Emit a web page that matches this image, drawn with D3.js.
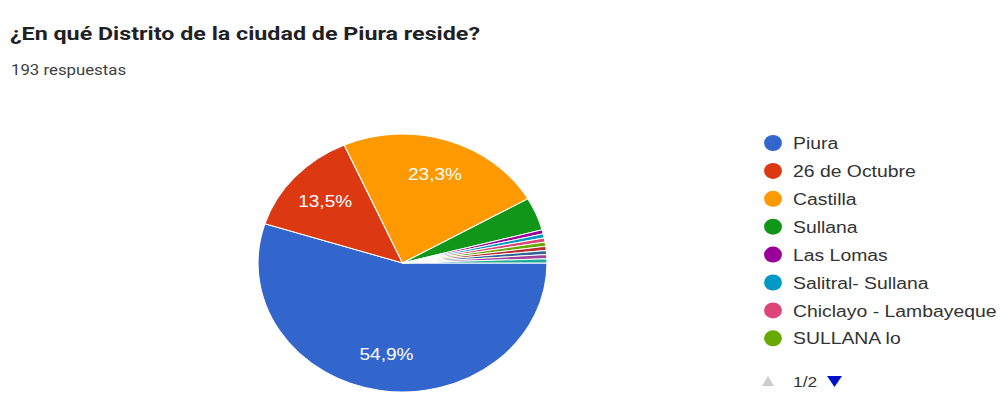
<!DOCTYPE html>
<html>
<head>
<meta charset="utf-8">
<script src="https://cdn.jsdelivr.net/npm/d3@7/dist/d3.min.js"></script>
<style>
  html, body { margin: 0; padding: 0; background: #fff; }
  svg { display: block; }
</style>
</head>
<body>
<svg id="chart" width="1006" height="398"></svg>
<script>
// Survey answers: district of residence
const title = "¿En qué Distrito de la ciudad de Piura reside?";
const subtitle = "193 respuestas";
const categories = ["Piura", "26 de Octubre", "Castilla", "Sullana", "Las Lomas",
  "Salitral- Sullana", "Chiclayo - Lambayeque", "SULLANA lo",
  "Catacaos", "Tambogrande", "Paita", "Talara"];
const counts = [106, 26, 45, 8, 1, 1, 1, 1, 1, 1, 1, 1];
const colors = ["#3366cc", "#dc3912", "#ff9900", "#109618", "#990099", "#0099c6",
  "#dd4477", "#66aa00", "#b82e2e", "#316395", "#994499", "#22aa99"];
const legendPageSize = 8;
const pageLabel = "1/2";

const W = 1006, H = 398;
const SX = 1.12;               // horizontal stretch of the whole drawing
const svg = d3.select("#chart");
svg.append("rect").attr("width", W).attr("height", H).attr("fill", "#fff");
const root = svg.append("g").attr("transform", `scale(${SX},1)`);
const X = v => v / SX;         // screen x -> drawing x

// Header
root.append("text")
  .attr("x", X(10)).attr("y", 40)
  .attr("font-family", "Roboto, Arial, sans-serif")
  .attr("font-weight", 700)
  .attr("font-size", 17.5)
  .attr("fill", "#202124")
  .attr("textLength", X(470))
  .attr("lengthAdjust", "spacingAndGlyphs")
  .text(title);
root.append("text")
  .attr("x", X(11)).attr("y", 75)
  .attr("font-family", "Roboto, Arial, sans-serif")
  .attr("font-size", 15)
  .attr("fill", "#3c4043")
  .text(subtitle);

// Pie
const total = d3.sum(counts);
const data = categories.map((c, i) => ({ name: c, value: counts[i], color: colors[i] }));
const R = 129;
const pie = d3.pie().value(d => d.value).sort(null)
  .startAngle(Math.PI / 2).endAngle(Math.PI / 2 + 2 * Math.PI);
const arc = d3.arc().innerRadius(0).outerRadius(R);
const labelArc = d3.arc().innerRadius(R * 0.72).outerRadius(R * 0.72);
const arcs = pie(data);

const pg = root.append("g").attr("transform", `translate(${X(402.5)},263)`);
pg.selectAll("path").data(arcs).join("path")
  .attr("d", arc)
  .attr("fill", d => d.data.color)
  .attr("stroke", "#fff")
  .attr("stroke-width", 1);

const fmt = v => (v * 100).toFixed(1).replace(".", ",") + "%";
pg.selectAll("text.lbl").data(arcs.filter(d => d.data.value / total > 0.05)).join("text")
  .attr("class", "lbl")
  .attr("transform", d => `translate(${labelArc.centroid(d)})`)
  .attr("text-anchor", "middle")
  .attr("dominant-baseline", "central")
  .attr("font-family", "Arial, 'Liberation Sans', sans-serif")
  .attr("font-size", 17)
  .attr("fill", "#fff")
  .text(d => fmt(d.data.value / total));

// Legend (first page)
const lg = root.append("g");
const items = data.slice(0, legendPageSize);
const rowY = i => 143 + i * 27.9;
lg.selectAll("circle").data(items).join("circle")
  .attr("cx", X(773)).attr("cy", (d, i) => rowY(i))
  .attr("r", 8)
  .attr("fill", d => d.color);
lg.selectAll("text").data(items).join("text")
  .attr("x", X(793)).attr("y", (d, i) => rowY(i))
  .attr("dominant-baseline", "central")
  .attr("font-family", "Arial, 'Liberation Sans', sans-serif")
  .attr("font-size", 17.3)
  .attr("fill", "#333")
  .text(d => d.name);

// Legend paging
const navY = 381;
lg.append("path")
  .attr("d", `M${X(762)},${navY + 5}L${X(774)},${navY + 5}L${X(768)},${navY - 5}Z`)
  .attr("fill", "#ccc");
lg.append("text")
  .attr("x", X(793)).attr("y", navY)
  .attr("dominant-baseline", "central")
  .attr("font-family", "Arial, 'Liberation Sans', sans-serif")
  .attr("font-size", 15.5)
  .attr("fill", "#333")
  .text(pageLabel);
lg.append("path")
  .attr("d", `M${X(827)},${navY - 5}L${X(842)},${navY - 5}L${X(834.5)},${navY + 6}Z`)
  .attr("fill", "#0011cc");
</script>
</body>
</html>
